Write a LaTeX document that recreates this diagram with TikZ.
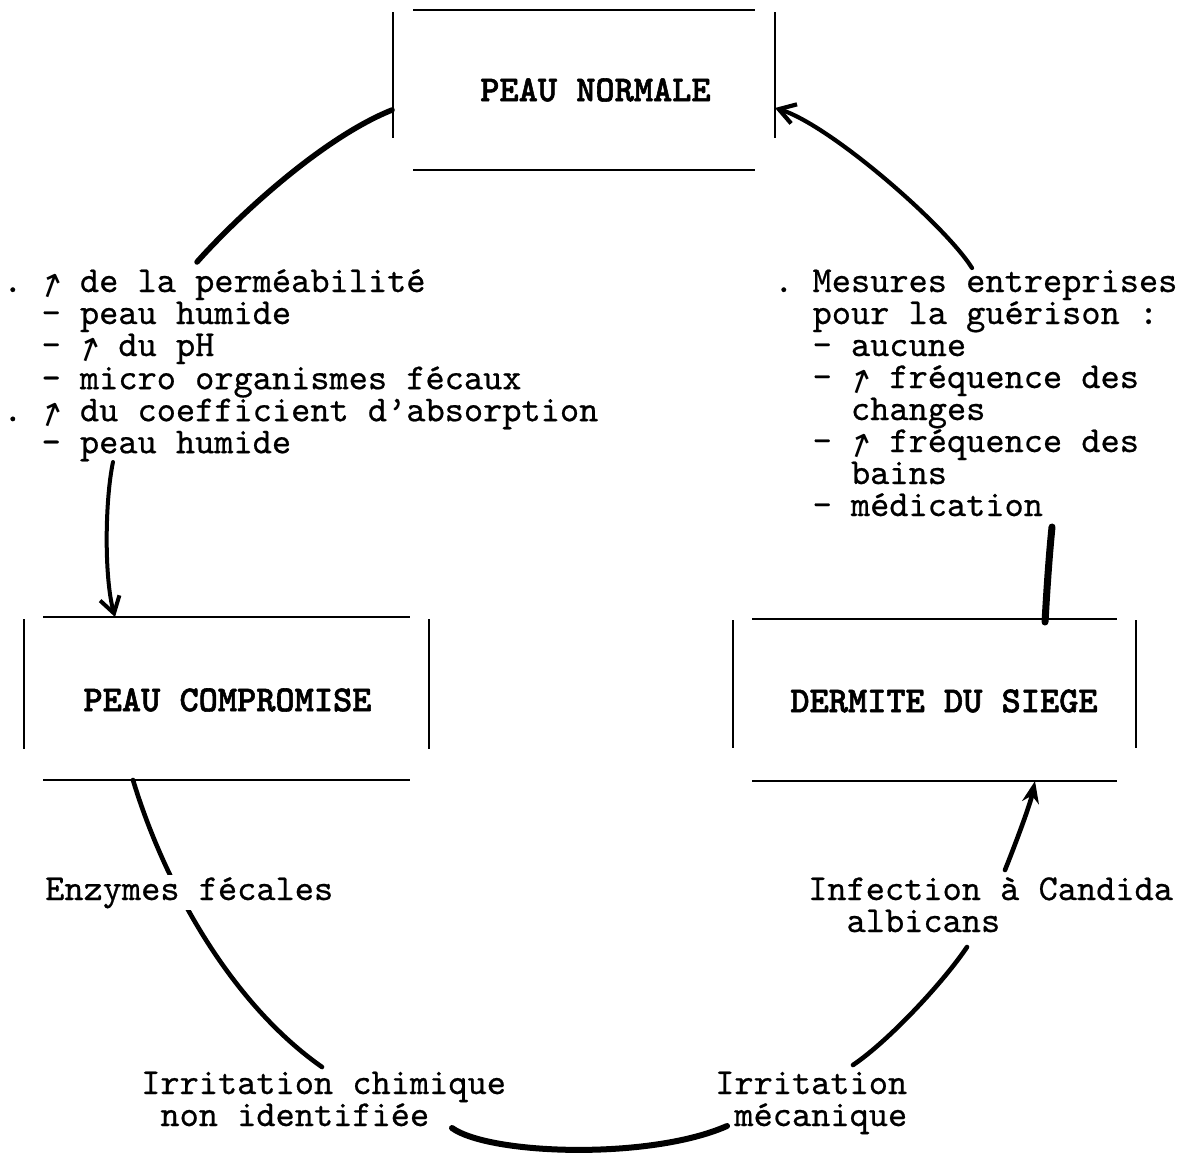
\documentclass[tikz,border=0pt]{standalone}
\usepackage{fontspec}
\usepackage{graphicx}
\newfontfamily\arrowfont{DejaVu Sans}
\newfontfamily\ttbody{lmmono10-regular.otf}[FakeBold=0.6]
\newfontfamily\ttbold{lmmonolt10-bold.otf}[FakeBold=1.5]
\usetikzlibrary{calc,arrows.meta}
\newlength\cw \setlength\cw{19.2pt}
\newcommand\txtfont{\ttbody\fontsize{36.57}{32}\selectfont\frenchspacing}
\newcommand\upar{\makebox[\cw][c]{\rotatebox{-20}{\fontsize{33}{33}\arrowfont ↑}}}
\newcommand\ind[1]{\hspace*{#1\cw}}
\newcommand\boxlines[4]{%
  \draw[boxline] ($(#1.north west)+(#2,0)$) -- ($(#1.north east)+(-#2,0)$);
  \draw[boxline] ($(#1.south west)+(#2,0)$) -- ($(#1.south east)+(-#2,0)$);
  \draw[boxline] ($(#1.north west)+(0,#3)$) -- ($(#1.north west)+(0,#4)$);
  \draw[boxline] ($(#1.north east)+(0,#3)$) -- ($(#1.north east)+(0,#4)$);}
\begin{document}
\begin{tikzpicture}[x=1pt,y=-1pt,
  boxline/.style={line width=2pt},
  box/.style={inner sep=0pt, outer sep=0pt, draw=none},
  title/.style={inner sep=0pt, font=\ttbold\fontsize{36.57}{40}\selectfont},
  txt/.style={inner sep=0pt, anchor=base west},
  conn/.style={line width=4.6pt, line cap=round},
  barb/.style={-{Straight Barb[length=16pt,width=20pt]}},
  stl/.style={-{Stealth[length=22pt,width=17pt]}}]
\useasboundingbox (0,0) rectangle (1188,1157);

% boxes
\node[box, minimum width=382pt, minimum height=160pt] (normal) at (584,90) {};
\node[box, minimum width=405pt, minimum height=163pt] (comp) at (226.5,698.5) {};
\node[box, minimum width=403pt, minimum height=162pt] (derm) at (934.5,700) {};
\boxlines{normal}{20}{2}{128}
\boxlines{comp}{19}{2}{132}
\boxlines{derm}{19}{1}{129}
\node[title] (normalt) at (595.5,90) {PEAU NORMALE};
\node[title] (compt) at (227.5,700) {PEAU COMPROMISE};
\node[title] (dermt) at (944,701) {DERMITE DU SIEGE};

% text blocks
\node[txt] (lb) at (3,292) {\parbox[t]{700pt}{\txtfont
.\ \upar\ de la perméabilité\\
\ind{2}- peau humide\\
\ind{2}- \upar\ du pH\\
\ind{2}- micro organismes fécaux\\
.\ \upar\ du coefficient d’absorption\\
\ind{2}- peau humide}};

\node[txt] (rb) at (774,292) {\parbox[t]{500pt}{\txtfont
.\ Mesures entreprises\\
\ind{2}pour la guérison :\\
\ind{2}- aucune\\
\ind{2}- \upar\ fréquence des\\
\ind{4}changes\\
\ind{2}- \upar\ fréquence des\\
\ind{4}bains\\
\ind{2}- médication}};

\node[txt] (inf) at (808,900) {\parbox[t]{500pt}{\txtfont
Infection à Candida\\
\ind{2}albicans}};
\node[txt] (ch) at (141,1094) {\parbox[t]{500pt}{\txtfont
Irritation chimique\\
\ind{1}non identifiée}};
\node[txt] (me) at (715,1094) {\parbox[t]{400pt}{\txtfont
Irritation\\
\ind{1}mécanique}};

% connectors
\draw[conn, line width=5.5pt] ($(normal.north west)+(-1,100)$) .. controls +(-70,28) and +(40,-45) .. ($(lb.base west)+(194,-30)$);
\draw[conn, barb, line width=4pt] ($(lb.base west)+(110,170)$) .. controls +(-8,38) and +(-11,-40) .. ($(comp.north west)+(91,0)$);
\draw[conn] ($(comp.south west)+(109,0)$) .. controls +(32,106) and +(-90,-63) .. ($(ch.base west)+(181,-27)$);
\draw[conn, line width=6pt] ($(ch.base west)+(311,34)$) .. controls +(38,27) and +(-77,34) .. ($(me.base west)+(12,32)$);
\draw[conn] ($(me.base west)+(138,-29)$) .. controls +(37,-25) and +(-22,33) .. ($(inf.base west)+(159,47)$);
\draw[conn, stl] ($(inf.base west)+(197,-30)$) .. controls +(10,-25) and +(-5,24) .. ($(derm.south west)+(302,0)$);
\draw[conn, line width=7pt] ($(derm.north west)+(312,3)$) .. controls +(2,-35) and +(-3,30) .. ($(rb.base west)+(278,235)$);
\draw[conn, barb, line width=4.2pt] ($(rb.base west)+(198,-24)$) .. controls +(-27,-43) and +(55,17) .. ($(normal.north east)+(0,98)$);

% label over its connector
\node[txt, fill=white, inner ysep=2pt] (enz) at (45,900) {\txtfont Enzymes fécales};
\end{tikzpicture}
\end{document}
